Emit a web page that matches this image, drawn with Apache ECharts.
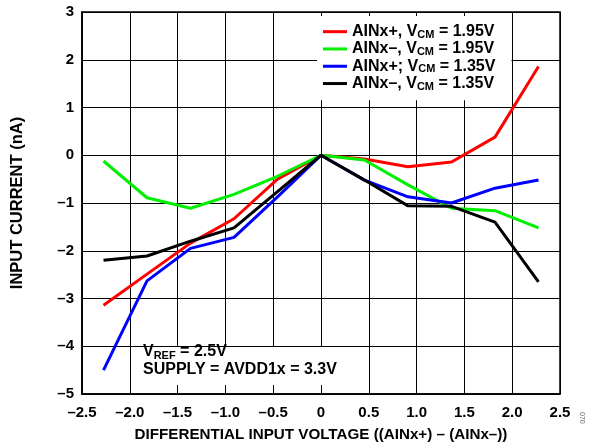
<!DOCTYPE html>
<html>
<head>
<meta charset="utf-8">
<script src="https://cdn.jsdelivr.net/npm/echarts@6/dist/echarts.min.js"></script>
<style>
html,body{margin:0;padding:0;background:#fff;}
#chart{width:596px;height:446px;}
</style>
</head>
<body>
<div id="chart"></div>
<script>
const xValues = [-2.275, -1.82, -1.365, -0.91, -0.455, 0, 0.455, 0.91, 1.365, 1.82, 2.275];
const ainPos195 = [-3.14, -2.49, -1.84, -1.33, -0.50, 0, -0.08, -0.24, -0.14, 0.38, 1.86];
const ainNeg195 = [-0.12, -0.89, -1.11, -0.82, -0.44, 0, -0.10, -0.62, -1.11, -1.16, -1.52];
const ainPos135 = [-4.50, -2.63, -1.95, -1.72, -0.87, 0, -0.52, -0.87, -1.00, -0.69, -0.52];
const ainNeg135 = [-2.20, -2.11, -1.80, -1.52, -0.76, 0, -0.52, -1.06, -1.07, -1.40, -2.65];
const seriesNames = ['AINx+, V_CM = 1.95V', 'AINx\u2013, V_CM = 1.95V', 'AINx+; V_CM = 1.35V', 'AINx\u2013, V_CM = 1.35V'];
const seriesColors = ['#ff0000', '#00ee00', '#0000ff', '#000000'];
const seriesData = [ainPos195, ainNeg195, ainPos135, ainNeg135];

const FONT = '"Liberation Sans", Arial, sans-serif';
const chart = echarts.init(document.getElementById('chart'), null, {renderer: 'canvas'});

function dash(v) {
  if (v === 0) return '0';
  return String(v).replace('-', '\u2013');
}

const series = seriesNames.map((name, i) => ({
  name: name,
  type: 'line',
  symbol: 'none',
  data: xValues.map((x, j) => [x, seriesData[i][j]]),
  lineStyle: {color: seriesColors[i], width: 3},
  itemStyle: {color: seriesColors[i]},
  z: 3
}));

chart.setOption({
  animation: false,
  backgroundColor: '#fff',
  grid: {left: 82, right: 36, top: 12, bottom: 52, show: true, borderColor: '#000', borderWidth: 1.5,
         containLabel: false, outerBoundsMode: 'none'},
  xAxis: {
    type: 'value', min: -2.5, max: 2.5, interval: 0.5,
    axisLine: {show: true, onZero: false, lineStyle: {color: '#000', width: 1.5}},
    axisTick: {show: false},
    splitLine: {show: true, lineStyle: {color: '#000', width: 1}},
    axisLabel: {
      color: '#000', fontFamily: FONT, fontWeight: 'bold', fontSize: 15, margin: 11,
      formatter: v => v === 0 ? '0' : dash(v.toFixed(1))
    },
    name: 'DIFFERENTIAL INPUT VOLTAGE ((AINx+) \u2013 (AINx\u2013))',
    nameLocation: 'middle', nameGap: 33,
    nameTextStyle: {color: '#000', fontFamily: FONT, fontWeight: 'bold', fontSize: 15.2}
  },
  yAxis: {
    type: 'value', min: -5, max: 3, interval: 1,
    axisLine: {show: true, onZero: false, lineStyle: {color: '#000', width: 1.5}},
    axisTick: {show: false},
    splitLine: {show: true, lineStyle: {color: '#000', width: 1}},
    axisLabel: {
      color: '#000', fontFamily: FONT, fontWeight: 'bold', fontSize: 15, margin: 8,
      formatter: v => dash(v)
    },
    name: 'INPUT CURRENT (nA)',
    nameLocation: 'middle', nameGap: 56, nameRotate: 90,
    nameTextStyle: {color: '#000', fontFamily: FONT, fontWeight: 'bold', fontSize: 16.5}
  },
  legend: {
    orient: 'vertical', left: 317, top: 16,
    backgroundColor: '#fff', padding: [7, 16, 8, 6],
    icon: 'rect', itemWidth: 24, itemHeight: 3, itemGap: 0,
    selectedMode: false,
    data: seriesNames,
    formatter: function (name) {
      const parts = name.split('V_CM');
      return '{n|' + parts[0] + 'V}{s|CM}{n|' + parts[1] + '}';
    },
    textStyle: {
      color: '#000', fontFamily: FONT, fontWeight: 'bold', fontSize: 16,
      rich: {
        n: {fontFamily: FONT, fontWeight: 'bold', fontSize: 16, color: '#000', lineHeight: 15.3, height: 15.3},
        s: {fontFamily: FONT, fontWeight: 'bold', fontSize: 11, color: '#000', lineHeight: 9, padding: [6.3, 0, 0, 0]}
      }
    }
  },
  graphic: [
    {
      type: 'rect', left: 137, top: 347, z: 10,
      shape: {width: 208, height: 38},
      style: {fill: '#fff'}
    },
    {
      type: 'text', left: 143, top: 343, z: 11,
      style: {
        text: '{n|V}{s|REF}{n| = 2.5V}\n{n|SUPPLY = AVDD1x = 3.3V}',
        fill: '#000',
        font: 'bold 16px ' + FONT,
        rich: {
          n: {fontFamily: FONT, fontWeight: 'bold', fontSize: 16, fill: '#000', lineHeight: 18, height: 18},
          s: {fontFamily: FONT, fontWeight: 'bold', fontSize: 11, fill: '#000', lineHeight: 11, padding: [7, 0, 0, 0]}
        }
      }
    },
    {
      type: 'text', left: 578, top: 412, rotation: -Math.PI / 2, z: 11,
      style: {text: '070', fill: '#666', font: '7px ' + FONT}
    }
  ],
  series: series
});
</script>
</body>
</html>
